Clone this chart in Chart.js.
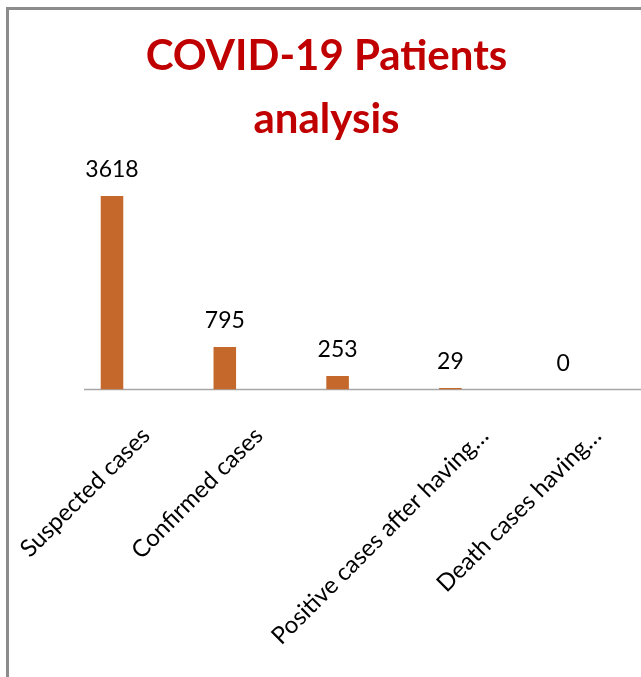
<!DOCTYPE html>
<html>
<head>
<meta charset="utf-8">
<script src="https://cdn.jsdelivr.net/npm/chart.js@4/dist/chart.umd.min.js"></script>
<style>
  body { margin: 0; background: #fff; }
  #frame {
    position: absolute; left: 6px; top: 7px; right: 0; bottom: 0;
    border-left: 3px solid #8c8c8c; border-top: 3px solid #8c8c8c;
  }
  #wrap { position: absolute; left: 0; top: 0; width: 641px; height: 677px; }
</style>
</head>
<body>
<div id="frame"></div>
<div id="wrap"><canvas id="covidChart"></canvas></div>
<script>
"use strict";

const categories = ['Suspected cases', 'Confirmed cases', '', 'Positive cases after having\u2026', 'Death cases having\u2026'];
const patients = [3618, 795, 253, 29, 0];
const titleLines = ['COVID-19 Patients', 'analysis'];

// value labels above each bar
const barLabels = {
  id: 'barLabels',
  afterDatasetsDraw(chart) {
    const ctx = chart.ctx;
    const meta = chart.getDatasetMeta(0);
    ctx.save();
    ctx.font = '23px Lato';
    ctx.fillStyle = '#000';
    ctx.textAlign = 'center';
    ctx.textBaseline = 'alphabetic';
    meta.data.forEach((bar, i) => {
      ctx.fillText(String(patients[i]), bar.x, bar.y - 19);
    });
    ctx.restore();
  }
};

// horizontal axis line, running on to the right edge
const baseLine = {
  id: 'baseLine',
  beforeDatasetsDraw(chart) {
    const ctx = chart.ctx;
    const y0 = chart.scales.y.getPixelForValue(0);
    ctx.save();
    ctx.strokeStyle = '#a6a6a6';
    ctx.lineWidth = 1.5;
    ctx.beginPath();
    ctx.moveTo(84, y0);
    ctx.lineTo(chart.width, y0);
    ctx.stroke();
    ctx.restore();
  }
};

const ctx = document.getElementById('covidChart').getContext('2d');
const myChart = new Chart(ctx, {
  type: 'bar',
  data: {
    labels: categories,
    datasets: [{
      label: 'Patients',
      data: patients,
      backgroundColor: '#c5682c',
      categoryPercentage: 1,
      barPercentage: 0.2
    }]
  },
  options: {
    responsive: true,
    maintainAspectRatio: false,
    animation: false,
    layout: { padding: { left: 33.4, right: 21.4, top: 0, bottom: 0 } },
    plugins: {
      legend: { display: false },
      tooltip: { enabled: false },
      title: {
        display: true,
        text: titleLines,
        color: '#c00000',
        font: { family: 'Lato', size: 42, weight: 'bold', lineHeight: 1.5 },
        padding: { top: 24.6, bottom: 25 }
      }
    },
    scales: {
      x: {
        grid: { display: false, drawTicks: false },
        border: { display: false },
        ticks: {
          color: '#000',
          font: { family: 'Lato', size: 24 },
          minRotation: 45,
          maxRotation: 45,
          autoSkip: false,
          padding: 32,
          labelOffset: 34
        },
        afterFit: (scale) => {
          scale.paddingLeft = 0;
          scale.paddingRight = 0;
          scale.height = 287.5;
        }
      },
      y: {
        min: 0,
        max: 4000,
        grid: { display: false, drawTicks: false },
        border: { display: false },
        ticks: { display: false },
        afterFit: (scale) => {
          scale.width = 22.2;
        }
      }
    }
  },
  plugins: [barLabels, baseLine]
});
</script>
</body>
</html>
